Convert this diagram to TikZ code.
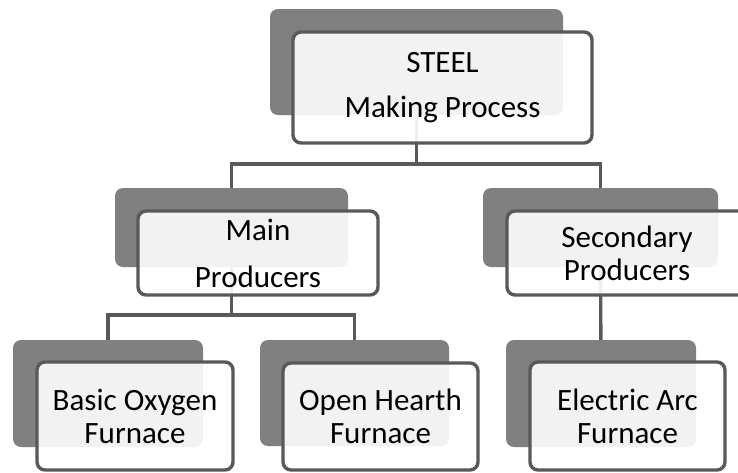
\documentclass[tikz,border=0pt]{standalone}
\usepackage{fontspec}
\setmainfont{Carlito}
\pgfdeclarelayer{bg}
\pgfsetlayers{bg,main}
\definecolor{edge}{HTML}{595959}
\definecolor{shade}{HTML}{808080}
\begin{document}
\begin{tikzpicture}[x=1pt,y=-1pt,
  backbox/.style={fill=shade, draw=none, rounded corners=8pt, inner sep=0pt},
  frontbox/.style={fill=white, fill opacity=0.9, text opacity=1, draw=edge, line width=3.4pt,
    rounded corners=8pt, inner sep=0pt, align=center, font=\fontsize{31}{33}\selectfont},
  link/.style={draw=edge, line width=3.4pt}]
\useasboundingbox (0,0) rectangle (738,472);
% back boxes
\node[backbox, minimum width=293pt, minimum height=106pt] (topB) at (416.5,62) {};
\node[backbox, minimum width=233pt, minimum height=79pt] (mainB) at (231.5,227.5) {};
\node[backbox, minimum width=235pt, minimum height=79pt] (secB) at (600.5,227.5) {};
\node[backbox, minimum width=190pt, minimum height=107pt] (basicB) at (108,393.5) {};
\node[backbox, minimum width=189pt, minimum height=106pt] (openB) at (354.5,393) {};
\node[backbox, minimum width=190pt, minimum height=107pt] (elecB) at (601,393.5) {};
% connectors
\coordinate (j1) at (416.5,164);
\coordinate (j2) at (231.5,315);
\begin{pgfonlayer}{bg}
\draw[link] (topB.center) -- (j1);
\draw[link] (mainB.center) |- (j1) -| (secB.center);
\draw[link] (mainB.center) -- (j2);
\draw[link] (basicB.center) |- (j2) -| (openB.center);
\draw[link] (secB.center) -- (elecB.center);
\end{pgfonlayer}
% front boxes
\node[frontbox, minimum width=299pt, minimum height=111pt] (top) at (442.5,87.5) {STEEL\\[12pt]Making Process};
\node[frontbox, minimum width=240pt, minimum height=84pt] (main) at (258,253) {Main\\[14pt]Producers};
\node[frontbox, minimum width=240pt, minimum height=84pt] (sec) at (627,253) {Secondary\\Producers};
\node[frontbox, minimum width=196pt, minimum height=108pt] (basic) at (135,416) {Basic Oxygen\\Furnace};
\node[frontbox, minimum width=195pt, minimum height=107pt] (open) at (380.5,416.5) {Open Hearth\\Furnace};
\node[frontbox, minimum width=195pt, minimum height=108pt] (elec) at (627.5,416) {Electric Arc\\Furnace};
\end{tikzpicture}
\end{document}
